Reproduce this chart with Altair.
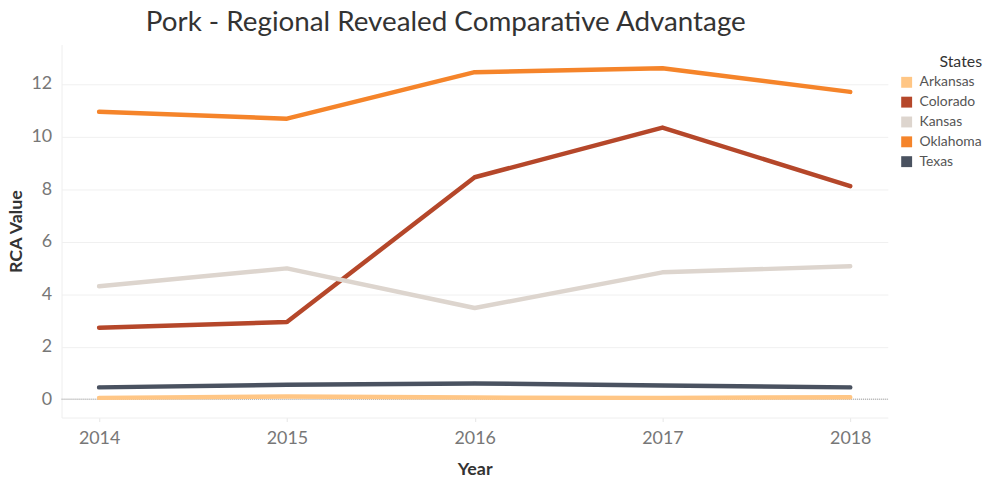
import altair as alt
import pandas as pd

years = [2014, 2015, 2016, 2017, 2018]
states = ["Arkansas", "Colorado", "Kansas", "Oklahoma", "Texas"]
arkansas = [0.05, 0.10, 0.06, 0.05, 0.07]
colorado = [2.72, 2.94, 8.45, 10.34, 8.11]
kansas = [4.30, 4.98, 3.47, 4.83, 5.06]
oklahoma = [10.94, 10.68, 12.45, 12.60, 11.70]
texas = [0.45, 0.55, 0.60, 0.52, 0.45]
colors = ["#FFC685", "#B5472A", "#DDD5CE", "#F5842A", "#4A5260"]

series = {"Arkansas": arkansas, "Colorado": colorado, "Kansas": kansas,
          "Oklahoma": oklahoma, "Texas": texas}
rows = []
for s in states:
    for y, v in zip(years, series[s]):
        rows.append({"Year": y, "State": s, "RCA": v})
df = pd.DataFrame(rows)

FONT = "Lato"

x_enc = alt.X("Year:Q",
              scale=alt.Scale(domain=[2013.8, 2018.2], nice=False, zero=False),
              axis=alt.Axis(values=years, format="d", title="Year", grid=False,
                            labelFontSize=18, labelColor="#777777", labelFont=FONT,
                            titleFontSize=18, titleFont=FONT, titleFontWeight="bold",
                            titleColor="#333333", titlePadding=13, labelPadding=8,
                            domainColor="#eeeeee", tickColor="#e6e6e6", tickSize=4))
y_enc = alt.Y("RCA:Q",
              scale=alt.Scale(domain=[-0.7, 13.5], nice=False),
              axis=alt.Axis(values=[0, 2, 4, 6, 8, 10, 12], title="RCA Value",
                            labelFontSize=18, labelColor="#777777", labelFont=FONT,
                            titleFontSize=18, titleFont=FONT, titleFontWeight="bold",
                            titleColor="#333333", titleX=-36, labelPadding=10,
                            gridColor="#f0f0f0", domainColor="#eeeeee", ticks=False))
color_scale = alt.Scale(domain=states, range=colors)

zero = alt.Chart(pd.DataFrame({"z": [0]})).mark_rule(
    color="#999999", strokeDash=[1, 1], strokeWidth=1
).encode(y=alt.Y("z:Q"))

lines = alt.Chart(df).mark_line(strokeWidth=4.5, strokeCap="round", strokeJoin="round").encode(
    x=x_enc, y=y_enc,
    color=alt.Color("State:N", scale=color_scale, legend=None),
)

legend_pts = alt.Chart(df).mark_point(
    shape="square", filled=True, opacity=1, size=9
).encode(
    x=x_enc, y=y_enc,
    color=alt.Color("State:N", scale=color_scale,
                    legend=alt.Legend(title="States", orient="none", legendX=845, legendY=10,
                                      titleFontSize=16, titleFont=FONT, titleColor="#333333",
                                      titleFontWeight="normal", titleAlign="right", titleAnchor="end",
                                      labelFontSize=14, labelFont=FONT, labelColor="#555555",
                                      symbolType="square", symbolSize=121, symbolStrokeWidth=0,
                                      symbolOpacity=1, rowPadding=6, labelOffset=6)),
)

chart = alt.layer(zero, lines, legend_pts).resolve_legend(color="independent").properties(
    width=833, height=376,
    title=alt.TitleParams("Pork - Regional Revealed Comparative Advantage",
                          fontSize=28, font=FONT, fontWeight="normal", color="#333333",
                          anchor="start", dx=139, dy=4, offset=12),
    autosize=alt.AutoSizeParams(type="none"),
    padding={"left": 54, "top": 35, "right": 100, "bottom": 57},
).configure_view(stroke=None).configure_axis(domain=True)

chart.save("out.html", embed_options={"renderer": "svg", "actions": False})
